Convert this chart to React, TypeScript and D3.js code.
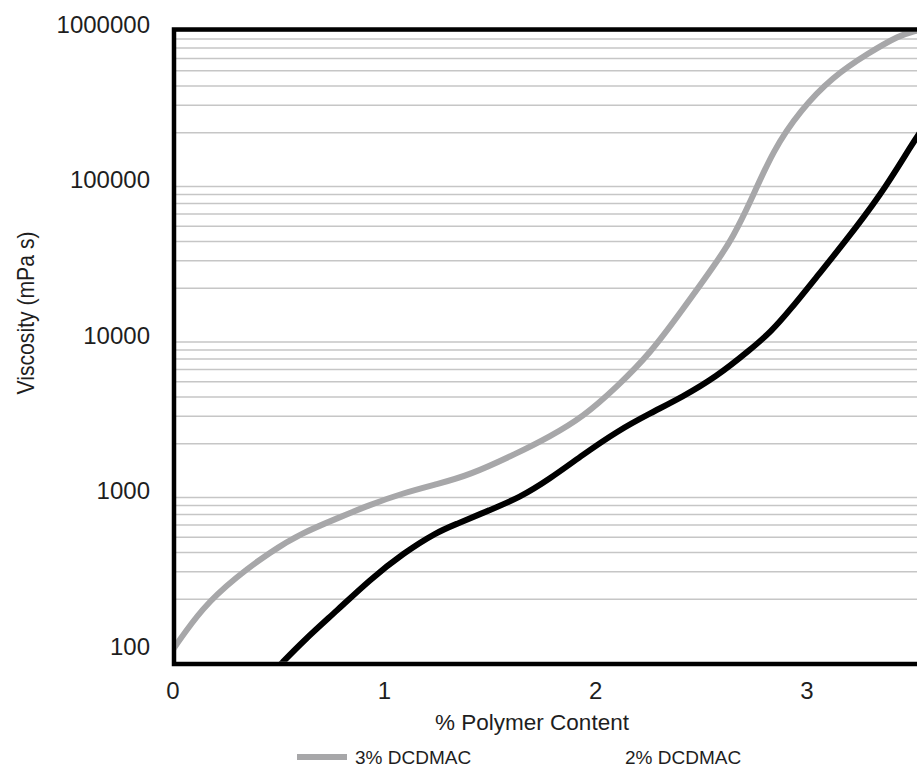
import { useEffect, useRef } from 'react'
import * as d3 from 'd3'

const xTicks = [0, 1, 2, 3]
const yTicks = [100, 1000, 10000, 100000, 1000000]
const seriesNames = ['3% DCDMAC', '2% DCDMAC']
const seriesColors = ['#a7a7a9', '#000000']

// 3% DCDMAC (grey curve)
const content3 = [0, 0.14, 0.3, 0.46, 0.61, 0.78, 0.93, 1.09, 1.25, 1.4, 1.63, 1.78, 1.94, 2.1, 2.26, 2.41, 2.57, 2.65, 2.73, 2.84, 2.97, 3.12, 3.29, 3.44, 3.5, 3.55]
const viscosity3 = [95, 178, 278, 403, 533, 665, 807, 964, 1100, 1250, 1740, 2210, 2970, 4630, 7660, 14500, 29000, 42700, 70600, 155000, 280000, 456000, 650000, 849000, 889000, 930000]

// 2% DCDMAC (black curve)
const content2 = [0.5, 0.62, 0.78, 0.93, 1.09, 1.25, 1.33, 1.5, 1.64, 1.78, 1.94, 2.1, 2.26, 2.41, 2.57, 2.73, 2.83, 2.92, 3.06, 3.16, 3.35, 3.5, 3.55]
const viscosity2 = [74, 109, 171, 266, 396, 541, 600, 750, 900, 1180, 1700, 2400, 3150, 3990, 5370, 8010, 10500, 14500, 25000, 36800, 79400, 171800, 215000]

const font = '"Liberation Sans", Arial, sans-serif'

function App() {
    const ref = useRef<SVGSVGElement>(null)

    useEffect(() => {
        const frame = { left: 174, top: 29.5, right: 1000, bottom: 664 }
        const border = 4.5

        const xScale = d3
            .scaleLinear()
            .domain([0, 3])
            .range([173, 807])

        const yScale = d3
            .scaleLog()
            .domain([100, 1000000])
            .range([646, 24])

        const svg = d3.select(ref.current)
        svg.selectAll('*').remove()

        svg.append('defs')
            .append('clipPath')
            .attr('id', 'plot-clip')
            .append('rect')
            .attr('x', frame.left + border / 2)
            .attr('y', frame.top + border / 2)
            .attr('width', frame.right - frame.left)
            .attr('height', frame.bottom - frame.top - border)

        // minor gridlines only (2..9 of every decade), like the source
        const gridValues = yScale.ticks().filter(v => {
            const l = Math.log10(v)
            return Math.abs(l - Math.round(l)) > 1e-6
        })
        svg.append('g')
            .selectAll('line')
            .data(gridValues)
            .join('line')
            .attr('x1', frame.left)
            .attr('x2', frame.right)
            .attr('y1', d => yScale(d))
            .attr('y2', d => yScale(d))
            .attr('stroke', '#c6c6c6')
            .attr('stroke-width', 1.5)

        const series = [
            content3.map((c, i) => ({ x: c, y: viscosity3[i] })),
            content2.map((c, i) => ({ x: c, y: viscosity2[i] }))
        ]

        const path = d3
            .line<{ x: number, y: number }>()
            .x(d => xScale(d.x))
            .y(d => yScale(d.y))
            .curve(d3.curveBasis)

        svg.append('g')
            .attr('clip-path', 'url(#plot-clip)')
            .selectAll('path')
            .data(series)
            .join('path')
            .attr('d', d => path(d))
            .attr('fill', 'none')
            .attr('stroke', (d, i) => seriesColors[i])
            .attr('stroke-width', 6)
            .attr('stroke-linecap', 'round')

        // plot frame (right side runs off the picture)
        svg.append('rect')
            .attr('x', frame.left)
            .attr('y', frame.top)
            .attr('width', frame.right - frame.left)
            .attr('height', frame.bottom - frame.top)
            .attr('fill', 'none')
            .attr('stroke', '#000')
            .attr('stroke-width', border)

        svg.append('g')
            .selectAll('text')
            .data(yTicks)
            .join('text')
            .attr('x', 150)
            .attr('y', d => yScale(d))
            .attr('dy', '0.36em')
            .attr('text-anchor', 'end')
            .attr('font-family', font)
            .attr('font-size', 24)
            .attr('fill', '#1e1e1e')
            .text(d => d)

        svg.append('g')
            .selectAll('text')
            .data(xTicks)
            .join('text')
            .attr('x', d => xScale(d))
            .attr('y', 699)
            .attr('text-anchor', 'middle')
            .attr('font-family', font)
            .attr('font-size', 24)
            .attr('fill', '#1e1e1e')
            .text(d => d)

        svg.append('text')
            .attr('x', 532)
            .attr('y', 730)
            .attr('text-anchor', 'middle')
            .attr('font-family', font)
            .attr('font-size', 22.5)
            .attr('fill', '#1e1e1e')
            .text('% Polymer Content')

        svg.append('text')
            .attr('transform', 'translate(34, 313) rotate(-90)')
            .attr('text-anchor', 'middle')
            .attr('font-family', font)
            .attr('font-size', 24)
            .attr('textLength', 163)
            .attr('lengthAdjust', 'spacingAndGlyphs')
            .attr('fill', '#1e1e1e')
            .text('Viscosity (mPa s)')

        // legend: only the grey entry has a visible swatch in the source
        const legendX = [297, 567]
        const legend = svg.append('g')
        legend.append('line')
            .attr('x1', legendX[0])
            .attr('x2', legendX[0] + 50)
            .attr('y1', 757)
            .attr('y2', 757)
            .attr('stroke', seriesColors[0])
            .attr('stroke-width', 6)
        legend.selectAll('text')
            .data(seriesNames)
            .join('text')
            .attr('x', (d, i) => legendX[i] + 58)
            .attr('y', 764)
            .attr('font-family', font)
            .attr('font-size', 19)
            .attr('fill', '#1e1e1e')
            .text(d => d)
    }, [])

    return (
        <svg
            ref={ref}
            width={917}
            height={768}
            style={{ position: 'absolute', left: 0, top: 0, background: '#fff' }}
        />
    )
}

export default App
